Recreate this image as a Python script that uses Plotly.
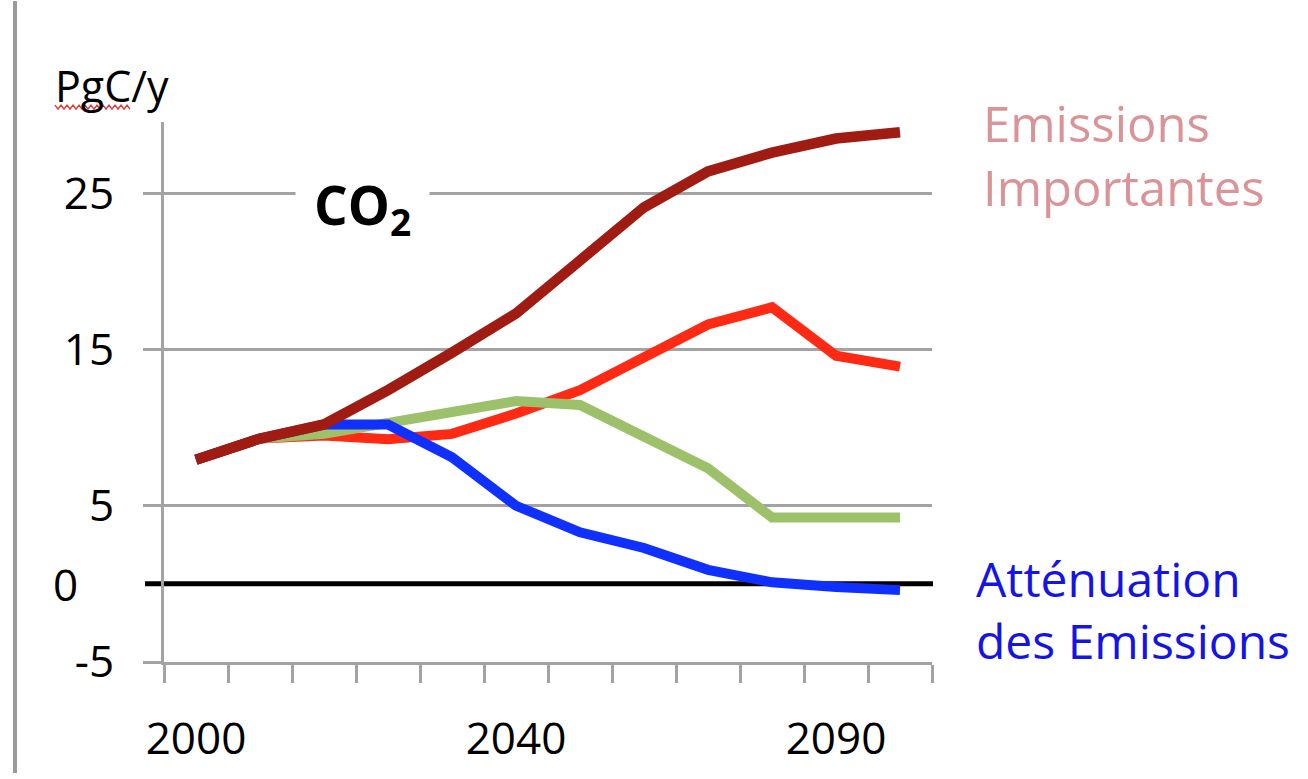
import plotly.graph_objects as go

# ---------------- data ----------------
years = ["2000", "2005", "2010", "2020", "2030", "2040", "2050",
         "2060", "2070", "2080", "2090", "2100"]
tick_labels = ["2000", "2040", "2090"]
y_tick_values = [-5, 5, 15, 25]

emissions_importantes = [7.95, 9.3, 10.2, 12.4, 14.8, 17.3, 20.7, 24.1, 26.4, 27.6, 28.5, 28.9]
scenario_red = [7.95, 9.3, 9.5, 9.25, 9.6, 10.9, 12.4, 14.5, 16.6, 17.7, 14.6, 13.9]
scenario_green = [7.95, 9.3, 9.6, 10.3, 11.1, 11.7, 11.45, 9.4, 7.4, 4.25, 4.25, 4.25]
attenuation = [7.95, 9.3, 10.2, 10.2, 8.1, 5.0, 3.3, 2.3, 0.9, 0.1, -0.2, -0.4]

# ---------------- layout constants ----------------
W, H = 1308, 779
L, R, T, B = 164, 376, 122, 112
PW, PH = W - L - R, H - T - B
FONT = "Open Sans"
GRID = "#A3A3A3"


def px(xp):
    return (xp - L) / PW


def py(yp):
    return (H - B - yp) / PH


xpos = list(range(len(years)))

fig = go.Figure()
series = [
    (scenario_red, "#FF2A14", 10),
    (scenario_green, "#9DC16B", 10),
    (attenuation, "#1030FF", 10),
    (emissions_importantes, "#A01B12", 10.5),
]
for vals, col, w in series:
    fig.add_trace(go.Scatter(x=xpos, y=vals, mode="lines",
                             line=dict(color=col, width=w),
                             hoverinfo="skip"))

fig.update_xaxes(
    range=[-0.5, len(years) - 0.5],
    showgrid=False, zeroline=False,
    showline=True, linecolor=GRID, linewidth=3,
    tickmode="array",
    tickvals=[years.index(t) for t in tick_labels],
    ticktext=tick_labels,
    ticks="",
    ticklabelstandoff=36,
    tickfont=dict(family=FONT, size=44, color="black"),
    minor=dict(tickmode="array",
               tickvals=[i - 0.5 for i in range(len(years) + 1)],
               ticks="outside", ticklen=18, tickwidth=3, tickcolor=GRID,
               showgrid=False),
)
fig.update_yaxes(
    range=[-5, 29.56],
    showgrid=True, gridcolor=GRID, gridwidth=3,
    zeroline=False,
    showline=True, linecolor=GRID, linewidth=3,
    tickmode="array", tickvals=y_tick_values,
    ticktext=[str(v) for v in y_tick_values],
    ticks="outside", ticklen=18, tickwidth=3, tickcolor=GRID,
    ticklabelstandoff=20,
    tickfont=dict(family=FONT, size=44, color="black"),
)

shapes = [
    # zero line (black, extends left like a tick)
    dict(type="line", xref="paper", yref="y", x0=px(145), x1=px(933), y0=0, y1=0,
         line=dict(color="black", width=5), layer="below"),
    # slide border on the left
    dict(type="line", xref="paper", yref="paper", x0=px(15), x1=px(15),
         y0=py(H), y1=py(0), line=dict(color="#9A9A9A", width=4)),
]
# red wavy spell-check underline under "PgC"
pts = []
xw = 55
k = 0
while xw <= 131:
    pts.append((px(xw), py(107 + (2 if k % 2 else -2))))
    xw += 3
    k += 1
path = "M " + " L ".join(f"{a:.5f},{b:.5f}" for a, b in pts)
shapes.append(dict(type="path", xref="paper", yref="paper", path=path,
                   line=dict(color="#E03535", width=1.5)))

annotations = [
    dict(text="PgC/y", xref="paper", yref="paper", x=px(53), y=py(85),
         xanchor="left", yanchor="middle", showarrow=False,
         font=dict(family=FONT, size=43, color="black")),
    dict(text="0", xref="paper", yref="y", x=px(65), y=0,
         xanchor="center", yanchor="middle", showarrow=False,
         font=dict(family=FONT, size=44, color="black")),
    dict(text="<b>CO<sub>2</sub></b>", xref="paper", yref="paper",
         x=px(362), y=py(208), xanchor="center", yanchor="middle",
         showarrow=False, bgcolor="white", borderpad=18,
         font=dict(family=FONT, size=53, color="black")),
    dict(text="Emissions<br>Importantes", xref="paper", yref="paper",
         x=px(981), y=py(155), xanchor="left", yanchor="middle", align="left",
         showarrow=False, font=dict(family=FONT, size=49, color="#DA9498")),
    dict(text="Atténuation<br>des Emissions", xref="paper", yref="paper",
         x=px(974), y=py(614), xanchor="left", yanchor="middle", align="left",
         showarrow=False, font=dict(family=FONT, size=48, color="#1414E6")),
]

fig.update_layout(
    width=W, height=H,
    margin=dict(l=L, r=R, t=T, b=B),
    paper_bgcolor="white", plot_bgcolor="white",
    showlegend=False,
    font=dict(family=FONT),
    shapes=shapes, annotations=annotations,
)

fig.write_html("out.html", config={"displayModeBar": False},
               post_script="document.body.style.margin='0';document.body.style.overflow='hidden';")
